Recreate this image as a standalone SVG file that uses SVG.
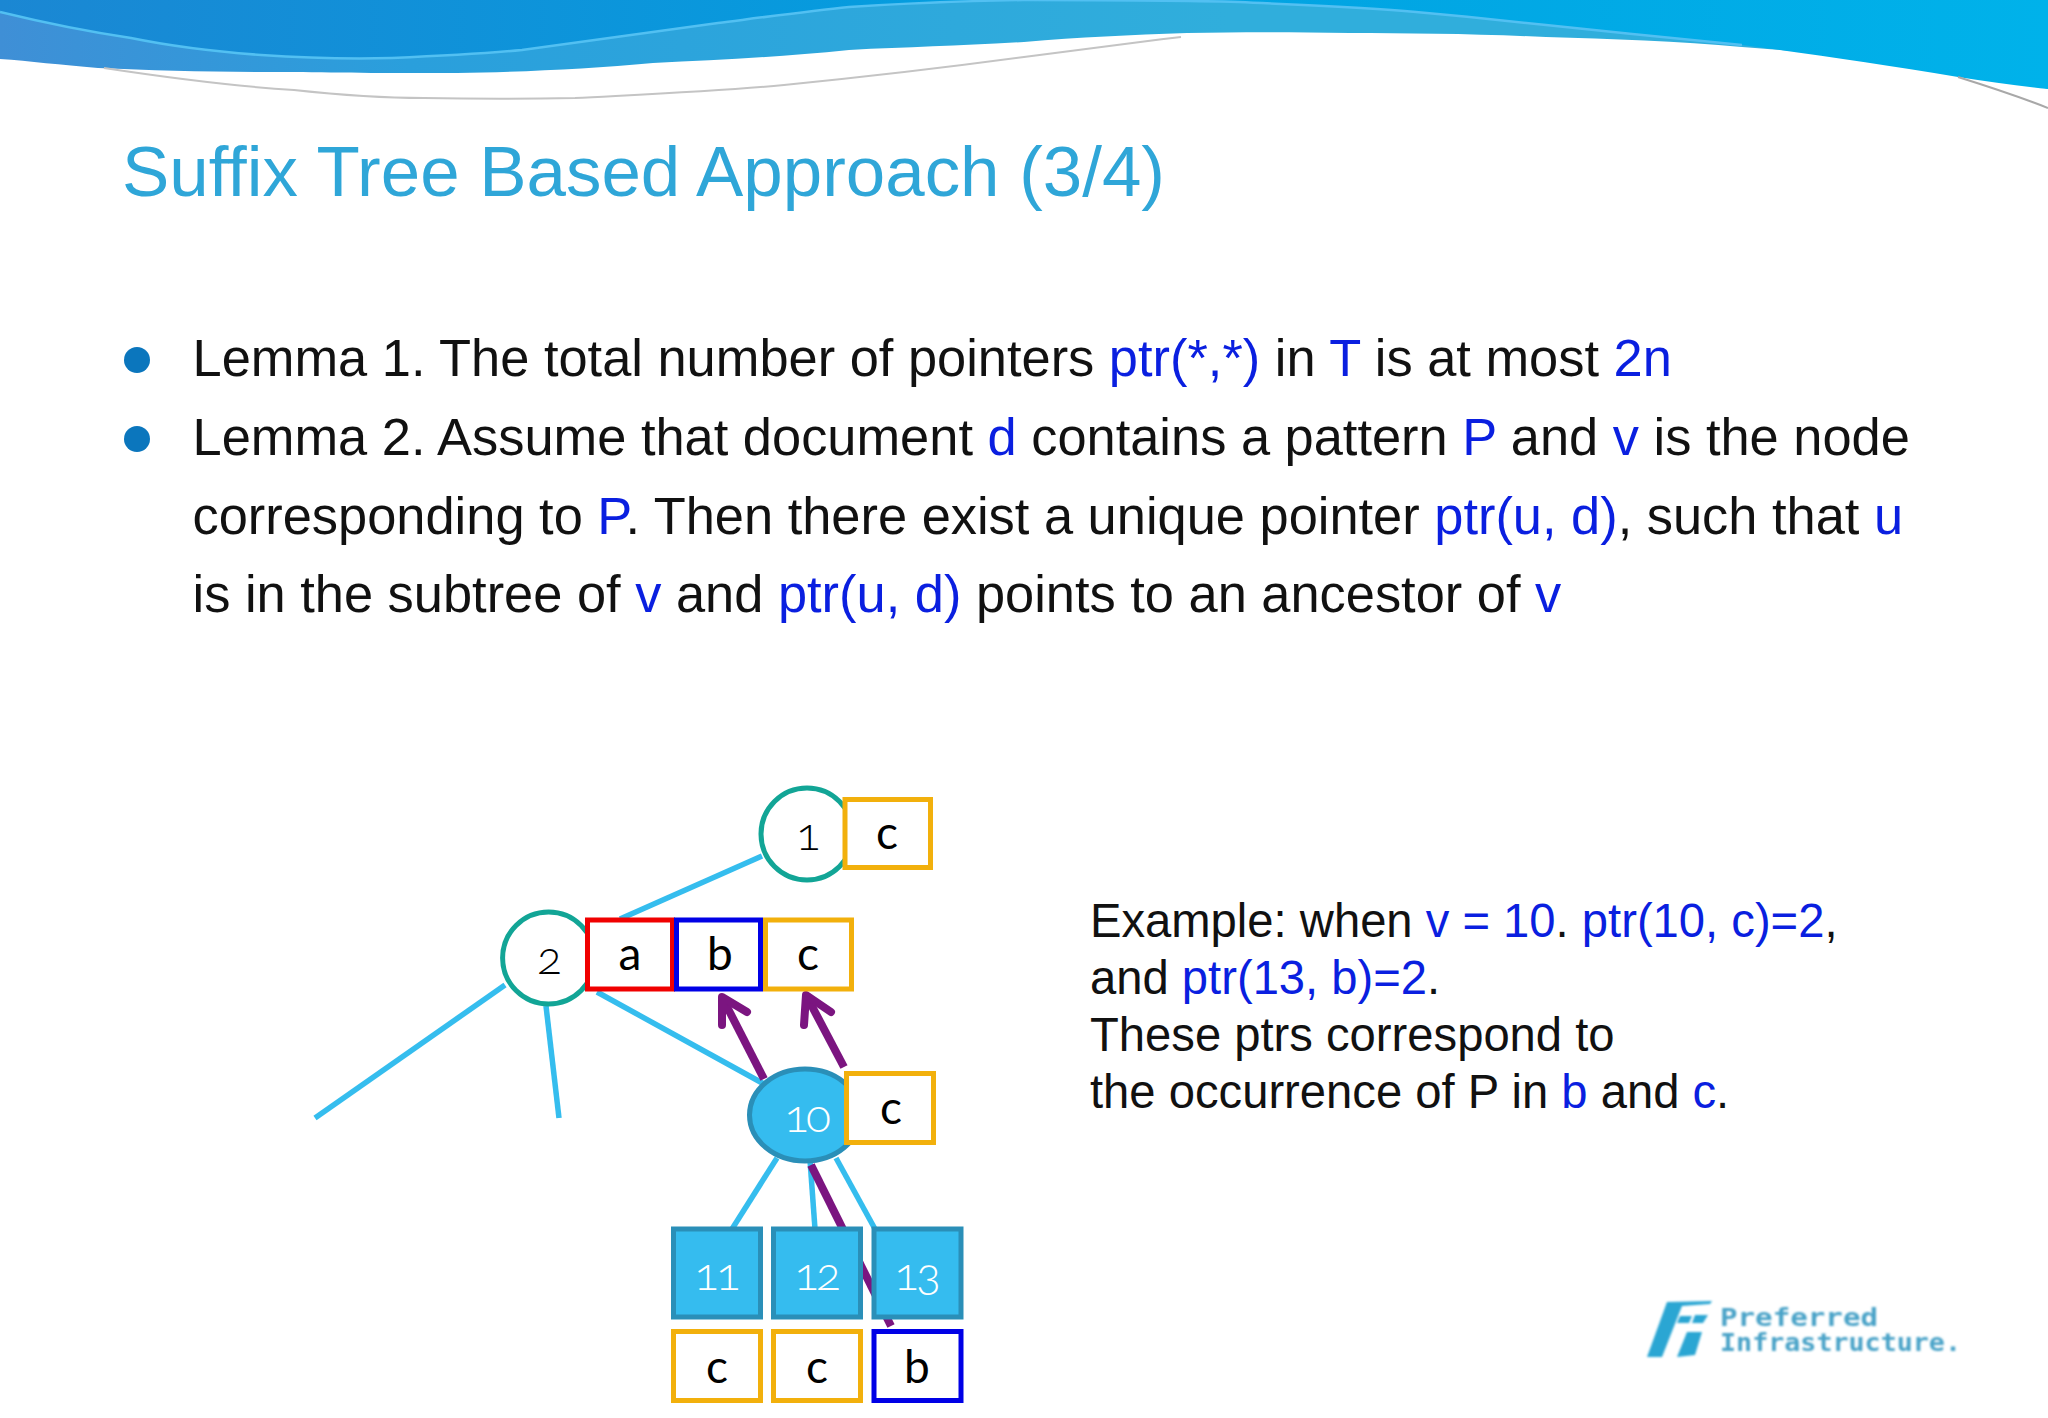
<svg xmlns="http://www.w3.org/2000/svg" width="2048" height="1418" viewBox="0 0 2048 1418">
<style>
.b{font-family:"Liberation Sans",Arial,sans-serif;font-size:52.4px;fill:#111}
.e{font-family:"Liberation Sans",Arial,sans-serif;font-size:47.2px;fill:#111}
.h{fill:#0a1fe0}
.t{font-family:"Lato","Open Sans",sans-serif;font-size:46px;text-anchor:middle;fill:#000;font-variant-numeric:oldstyle-nums}
.d{letter-spacing:-3px;font-weight:300}
.w{fill:#fff}
.box{fill:#fff;stroke-width:5}
.y{stroke:#f2b00c}.r{stroke:#f00000}.u{stroke:#0000e6}
.l{stroke:#35bdee;stroke-width:5.5;fill:none}
.p{stroke:#7b1580;stroke-width:8;fill:none;stroke-linejoin:round}
.n{fill:#35bcef;stroke:#2a8fb8;stroke-width:5}
.c{fill:#fff;stroke:#12a596;stroke-width:5}
.lg{font-family:"DejaVu Sans Mono",monospace;font-weight:bold;font-size:25px;fill:#4aa3c8}
</style>
<defs>
<linearGradient id="g1" x1="0" y1="0" x2="1" y2="0"><stop offset="0" stop-color="#1b87d3"/><stop offset=".5" stop-color="#029fe0"/><stop offset="1" stop-color="#00b2ea"/></linearGradient>
<linearGradient id="g2" x1="0" y1="0" x2="1" y2="0"><stop offset="0" stop-color="#3f8fd6"/><stop offset=".2" stop-color="#2a9fdc"/><stop offset=".6" stop-color="#30aedc"/><stop offset="1" stop-color="#30aedc"/></linearGradient>
<filter id="bl" x="-5%" y="-5%" width="110%" height="110%"><feGaussianBlur stdDeviation="0.9"/></filter>
</defs>
<rect width="2048" height="1418" fill="#fff"/>
<g id="banner">
<path d="M0 0H2048V89C1990 72 1930 72 1873 62C1830 52 1790 51 1742 47C1680 41 1610 39 1546 37C1480 34 1410 33 1350 33C1290 32 1240 32 1187 33C1130 35 1080 37 1024 42C960 46 910 47 849 50C780 57 720 60 653 63C590 69 520 72 457 73C400 73 340 73 294 72C220 72 160 71 98 68C60 65 30 61 0 59Z" fill="url(#g2)"/>
<path d="M0 0V12C45 23 90 32 131 38C175 47 220 52 261 55C305 58 350 59 392 58C440 56 480 54 522 50C590 41 650 32 718 23C765 17 810 11 849 7C910 3 970 1 1024 0C1100 0 1170 0 1239 2C1300 5 1360 7 1416 12C1460 16 1500 20 1546 25C1610 32 1680 39 1742 45C1810 54 1880 64 1958 77C1990 82 2020 86 2048 89V0Z" fill="url(#g1)"/>
<path d="M0 12C45 23 90 32 131 38C175 47 220 52 261 55C305 58 350 59 392 58C440 56 480 54 522 50C590 41 650 32 718 23C765 17 810 11 849 7C910 3 970 1 1024 0C1100 0 1170 0 1239 2C1300 5 1360 7 1416 12C1460 16 1500 20 1546 25C1610 32 1680 39 1742 45" fill="none" stroke="#52c0f2" stroke-width="2.5"/>
<path d="M104 68C170 78 230 86 294 90C340 95 380 98 424 98C470 99 530 99 575 98C650 94 720 91 784 85C865 77 950 67 1024 57C1080 50 1130 43 1181 37" fill="none" stroke="#c4c4c4" stroke-width="2"/>
<path d="M1958 77C1990 87 2020 97 2048 108" fill="none" stroke="#a8a8a8" stroke-width="2"/>
</g>
<text x="122" y="196" font-family="Liberation Sans, Arial, sans-serif" font-size="70.9" fill="#2fa6d8">Suffix Tree Based Approach (3/4)</text>
<g id="body">
<circle cx="137" cy="360" r="13" fill="#0b76bd"/>
<circle cx="137" cy="439" r="13" fill="#0b76bd"/>
<text class="b" x="192.500" y="376">Lemma 1. The total number of pointers <tspan class="h">ptr(*,*)</tspan> in <tspan class="h">T</tspan> is at most <tspan class="h">2n</tspan></text>
<text class="b" x="192.500" y="455">Lemma 2. Assume that document <tspan class="h">d</tspan> contains a pattern <tspan class="h">P</tspan> and <tspan class="h">v</tspan> is the node</text>
<text class="b" x="192.500" y="534">corresponding to <tspan class="h">P</tspan>. Then there exist a unique pointer <tspan class="h">ptr(u, d)</tspan>, such that <tspan class="h">u</tspan></text>
<text class="b" x="192.500" y="612">is in the subtree of <tspan class="h">v</tspan> and <tspan class="h">ptr(u, d)</tspan> points to an ancestor of <tspan class="h">v</tspan></text>
</g>
<g id="example">
<text class="e" x="1090" y="937">Example: when <tspan class="h">v = 10</tspan>. <tspan class="h">ptr(10, c)=2</tspan>,</text>
<text class="e" x="1090" y="994">and <tspan class="h">ptr(13, b)=2</tspan>.</text>
<text class="e" x="1090" y="1051">These ptrs correspond to</text>
<text class="e" x="1090" y="1108">the occurrence of P in <tspan class="h">b</tspan> and <tspan class="h">c</tspan>.</text>
</g>
<g id="connectors">
<path class="l" d="M762 856L620 919"/>
<path class="l" d="M505 985L315 1118"/>
<path class="l" d="M546 1006L559 1118"/>
<path class="l" d="M597 992L764 1084"/>
<path class="l" d="M777 1158L732 1229"/>
<path class="l" d="M810 1160L815 1229"/>
<path class="l" d="M836 1158L875 1229"/>
<path class="p" d="M764 1079L722 997"/>
<path class="p" d="M722 1025L722 997L747 1012" stroke-linecap="round"/>
<path class="p" d="M844 1067L806 995"/>
<path class="p" d="M804 1025L806 995L831 1012" stroke-linecap="round"/>
<path class="p" d="M811 1165L891 1326"/>
</g>
<g id="node1"><circle class="c" cx="807" cy="834" r="46"/><text class="t d" x="807" y="850">1</text></g>
<g id="node1c"><rect class="box y" x="845" y="799.500" width="85.500" height="68"/><text class="t" x="887" y="849">c</text></g>
<g id="node2"><circle class="c" cx="548.600" cy="958" r="46"/><text class="t d" x="548" y="974">2</text></g>
<g id="node2a"><rect class="box r" x="587.500" y="920" width="85" height="69"/><text class="t" x="630" y="970">a</text></g>
<g id="node2c"><rect class="box y" x="765.500" y="920" width="86" height="69"/><text class="t" x="808" y="970">c</text></g>
<g id="node2b"><rect class="box u" x="676.500" y="920" width="84" height="69"/><text class="t" x="720" y="970">b</text></g>
<g id="node10"><ellipse class="n" cx="805" cy="1115" rx="55.500" ry="46"/><text class="t w d" x="806" y="1132">10</text></g>
<g id="node10c"><rect class="box y" x="846.500" y="1073.500" width="87" height="69"/><text class="t" x="891" y="1124">c</text></g>
<g id="node11"><rect class="n" x="673.500" y="1229" width="87" height="88"/><text class="t w d" x="716" y="1290">11</text></g>
<g id="node12"><rect class="n" x="773.500" y="1229" width="87" height="88"/><text class="t w d" x="816" y="1290">12</text></g>
<g id="node13"><rect class="n" x="874" y="1229" width="87" height="88"/><text class="t w d" x="916" y="1290">13</text></g>
<g id="node11c"><rect class="box y" x="673.500" y="1331.500" width="87" height="69"/><text class="t" x="717" y="1383">c</text></g>
<g id="node12c"><rect class="box y" x="773.500" y="1331.500" width="87" height="69"/><text class="t" x="817" y="1383">c</text></g>
<g id="node13b"><rect class="box u" x="874" y="1331.500" width="87" height="69"/><text class="t" x="917" y="1383">b</text></g>
<g id="logo" filter="url(#bl)">
<path d="M1667 1302L1712 1301L1710 1304L1682 1306L1662 1357L1647 1357ZM1695 1315L1708 1315L1703 1323L1692 1323ZM1687 1332L1702 1332L1695 1355L1677 1357ZM1680 1316L1692 1316L1689 1323L1677 1323Z" fill="#2ba6d3"/>
<text class="lg" x="1720" y="1326" textLength="158" lengthAdjust="spacingAndGlyphs">Preferred</text>
<text class="lg" x="1720" y="1351" textLength="241" lengthAdjust="spacingAndGlyphs">Infrastructure.</text>
</g>
</svg>
